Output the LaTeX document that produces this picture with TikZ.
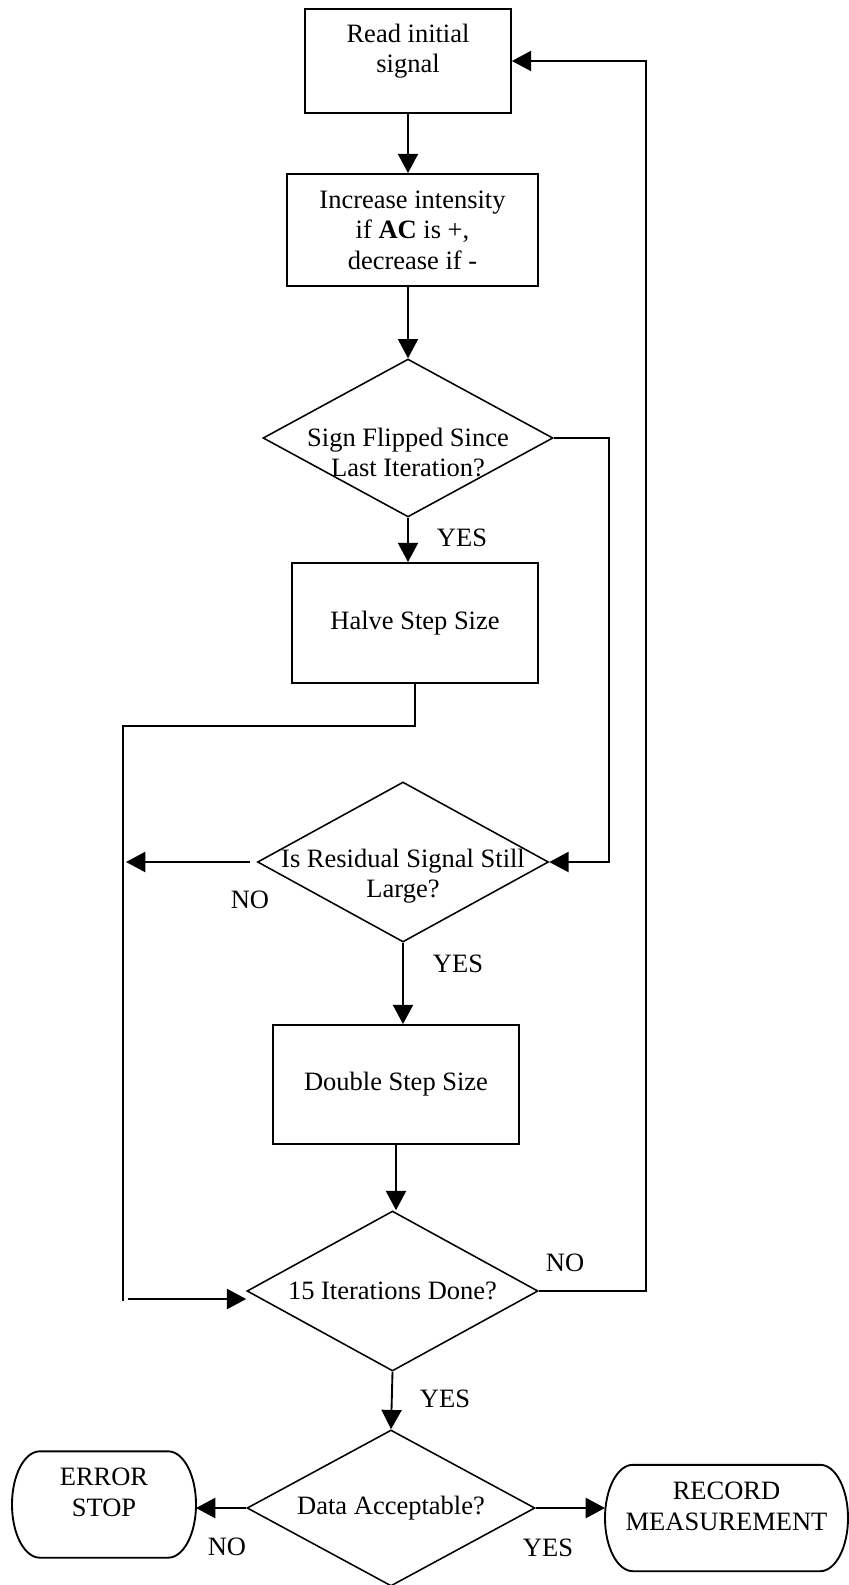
\documentclass[tikz,border=0pt]{standalone}
\usepackage{fontspec}
\setmainfont{Liberation Serif}
\usetikzlibrary{arrows.meta, shapes.geometric, calc}

\begin{document}
\begin{tikzpicture}[x=0.4831pt, y=-0.4831pt,
    font=\fontsize{12.8}{14.8}\selectfont,
    box/.style={rectangle, draw, line width=0.9pt, align=center, inner sep=0pt},
    decision/.style={diamond, draw, line width=0.75pt, aspect=1.8, align=center, inner sep=0pt},
    term/.style={rectangle, minimum width=#1, minimum height=51.4pt, inner sep=0pt, outer sep=0pt},
    txt/.style={align=center},
    tag/.style={inner sep=0pt},
    arrow/.style={-{Triangle[length=9.3pt, width=9.7pt]}, line width=0.9pt},
    link/.style={line width=0.9pt}]

    \useasboundingbox (0,0) rectangle (849,1585);

    % Boxes and decisions
    \node[box, minimum width=99.5pt, minimum height=50.2pt,
          label={[txt, yshift=4.8pt]center:Read initial\\signal}] (read) at (408,61) {};
    \node[box, minimum width=121.3pt, minimum height=54.1pt] (incr) at (412.5,230)
          {Increase intensity\\if \textbf{AC} is +,\\decrease if -};
    \node[decision, minimum width=140.1pt, minimum height=76.3pt,
          label={[txt, yshift=-7pt]center:Sign Flipped Since\\Last Iteration?}] (flip) at (408,438) {};
    \node[box, minimum width=118.8pt, minimum height=58pt] (halve) at (415,623) {Halve Step Size};
    \node[decision, minimum width=140.6pt, minimum height=77.3pt,
          label={[txt, yshift=-6.8pt]center:Is Residual Signal Still\\Large?}] (resid) at (403,862) {};
    \node[box, minimum width=118.8pt, minimum height=57.5pt] (dbl) at (396,1084.5) {Double Step Size};
    \node[decision, minimum width=140.6pt, minimum height=77.3pt] (iter) at (392.5,1291) {15 Iterations Done?};
    \node[decision, minimum width=139.1pt, minimum height=75.4pt] (accept) at (391,1508) {Data Acceptable?};
    \node[term=88.9pt, label={[txt, yshift=5.8pt]center:ERROR\\STOP}] (err) at (104,1504.5) {};
    \node[term=117.4pt, label={[txt, yshift=5.6pt]center:RECORD\\MEASUREMENT}] (rec) at (726.5,1518) {};

    % Terminal outlines
    \foreach \t in {err,rec}
        \draw[link] ($(\t.north west)+(13.5pt,0)$) -- ($(\t.north east)+(-13.5pt,0)$)
            arc[start angle=90, end angle=-90, x radius=13.5pt, y radius=25.7pt]
            -- ($(\t.south west)+(13.5pt,0)$)
            arc[start angle=270, end angle=90, x radius=13.5pt, y radius=25.7pt] -- cycle;

    % Loose ends of the left loop
    \coordinate (ltop) at (123,726);
    \coordinate (lbot) at (123,1301);
    \coordinate (lin) at (128,1299);
    \coordinate (nout) at (126,862);

    % Main flow
    \draw[arrow] (read.south) -- (read.south |- incr.north);
    \draw[arrow] (flip.north |- incr.south) -- (flip.north);
    \draw[arrow] (flip.south) -- (flip.south |- halve.north);
    \draw[arrow] (resid.south) -- (resid.south |- dbl.north);
    \draw[arrow] (dbl.south) -- (dbl.south |- iter.north);
    \draw[arrow] (iter.south) -- (accept.north);

    % Side branches
    \draw[arrow] (flip.east) -- ++(55,0) |- (resid.east);
    \draw[link] (halve.south) |- (ltop) -- (lbot);
    \draw[arrow, shorten <=3.4pt] (resid.west) -- (nout);
    \draw[arrow] (lin) -- (lin -| iter.west);
    \draw[arrow] (iter.east) -- ++(107,0) |- (read.east);
    \draw[arrow] (accept.west) -- (accept.west -| err.east);
    \draw[arrow] (accept.east) -- (accept.east -| rec.west);

    % YES / NO
    \node[tag] (yes1) at (462,538) {YES};
    \node[tag] (no1) at (250,900) {NO};
    \node[tag] (yes2) at (458,964) {YES};
    \node[tag] (no2) at (565,1263) {NO};
    \node[tag] (yes3) at (445,1399) {YES};
    \node[tag] (no3) at (227,1547) {NO};
    \node[tag] (yes4) at (548,1548) {YES};

\end{tikzpicture}
\end{document}
